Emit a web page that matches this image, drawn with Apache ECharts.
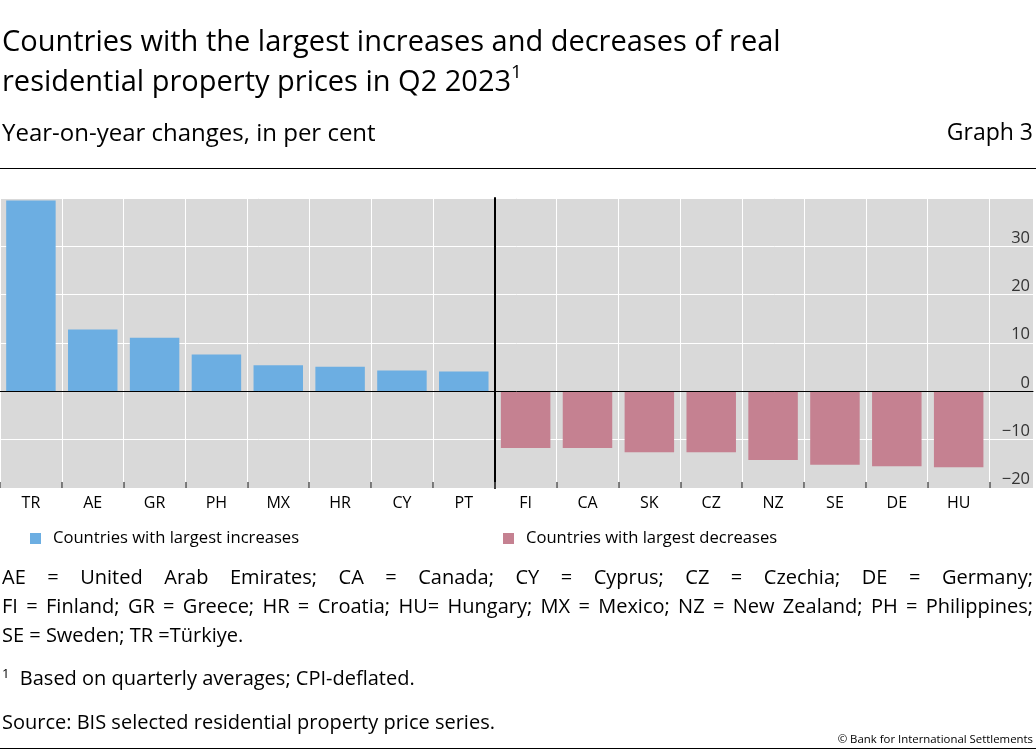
<!DOCTYPE html>
<html>
<head>
<meta charset="utf-8">
<script src="https://cdn.jsdelivr.net/npm/echarts@6/dist/echarts.min.js"></script>
<style>
  html, body { margin: 0; padding: 0; background: #fff; }
  #chart { position: absolute; left: 0; top: 0; width: 1036px; height: 754px; }
  .fn { position: absolute; left: 2px; width: 1031px; font-family: "Open Sans", sans-serif; font-size: 20px; color: #000; white-space: nowrap; line-height: 29px; }
  .just { text-align: justify; text-align-last: justify; }
  sup { font-size: 13px; vertical-align: 7px; line-height: 0; }
</style>
</head>
<body>
<div id="chart"></div>
<div class="fn just" style="top:562px;">AE = United Arab Emirates; CA = Canada; CY = Cyprus; CZ = Czechia; DE = Germany;</div>
<div class="fn just" style="top:591px;">FI = Finland; GR = Greece; HR = Croatia; HU= Hungary; MX = Mexico; NZ = New Zealand; PH = Philippines;</div>
<div class="fn" style="top:620px;">SE = Sweden; TR =Türkiye.</div>
<div class="fn" style="top:663px;"><sup>1</sup>&nbsp; Based on quarterly averages; CPI-deflated.</div>
<div class="fn" style="top:707px;">Source: BIS selected residential property price series.</div>
<script>
const categoriesInc = ['TR', 'AE', 'GR', 'PH', 'MX', 'HR', 'CY', 'PT'];
const valuesInc = [39.5, 12.8, 11.1, 7.6, 5.4, 5.1, 4.3, 4.1];
const categoriesDec = ['FI', 'CA', 'SK', 'CZ', 'NZ', 'SE', 'DE', 'HU'];
const valuesDec = [-11.7, -11.7, -12.6, -12.6, -14.2, -15.2, -15.5, -15.7];
const yMin = -20, yMax = 40, yStep = 10;
const nameInc = 'Countries with largest increases';
const nameDec = 'Countries with largest decreases';

const FONT = '"Open Sans", sans-serif';
const chart = echarts.init(document.getElementById('chart'), null, { renderer: 'canvas' });

const catAxis = (gi, data) => ({
  type: 'category', gridIndex: gi, data: data, position: 'bottom',
  axisLine: { show: false, onZero: false },
  axisTick: { show: true, inside: true, length: 6, lineStyle: { color: '#555', width: 1.5 } },
  axisLabel: { color: '#000', fontSize: 16, fontFamily: FONT, margin: 7 },
  splitLine: { show: true, lineStyle: { color: '#ffffff', width: 1 } }
});

chart.setOption({
  animation: false,
  textStyle: { fontFamily: FONT },
  title: {
    left: 2, top: 23, padding: 0,
    text: 'Countries with the largest increases and decreases of real\nresidential property prices in Q2 2023{sup|1}',
    textStyle: {
      fontSize: 29, fontWeight: 'normal', color: '#000', fontFamily: FONT, lineHeight: 40,
      rich: { sup: { fontSize: 19, verticalAlign: 'top', lineHeight: 30, color: '#000', fontFamily: FONT } }
    }
  },
  graphic: [
    { type: 'text', left: 2, top: 122, style: { text: 'Year-on-year changes, in per cent', font: '24px ' + FONT, fill: '#000' } },
    { type: 'text', right: 3, top: 122, style: { text: 'Graph 3', font: '23px ' + FONT, fill: '#000' } },
    { type: 'line', shape: { x1: 0, y1: 168.5, x2: 1036, y2: 168.5 }, style: { stroke: '#000', lineWidth: 1 } },
    { type: 'line', shape: { x1: 0, y1: 748.5, x2: 1036, y2: 748.5 }, style: { stroke: '#000', lineWidth: 1 } },
    { type: 'text', right: 3, top: 734, style: { text: '© Bank for International Settlements', font: '11.4px ' + FONT, fill: '#000' } }
  ],
  legend: [
    { data: [nameInc], left: 30, top: 530, padding: 0, icon: 'rect', itemWidth: 11, itemHeight: 11, itemGap: 10,
      textStyle: { fontSize: 16.6, color: '#000', fontFamily: FONT, padding: [0, 0, 0, 7] } },
    { data: [nameDec], left: 503, top: 530, padding: 0, icon: 'rect', itemWidth: 11, itemHeight: 11, itemGap: 10,
      textStyle: { fontSize: 16.6, color: '#000', fontFamily: FONT, padding: [0, 0, 0, 7] } }
  ],
  grid: [
    { left: 0, right: 3, top: 198, height: 290, show: true, backgroundColor: '#d9d9d9', borderWidth: 0 },
    { left: 0, width: 494.7, top: 198, height: 290 },
    { left: 494.7, width: 494.9, top: 198, height: 290 }
  ],
  xAxis: [
    { type: 'value', gridIndex: 0, min: 0, max: 1, z: 10,
      axisLine: { show: true, onZero: true, lineStyle: { color: '#000', width: 1 } },
      axisTick: { show: false }, axisLabel: { show: false }, splitLine: { show: false } },
    catAxis(1, categoriesInc),
    catAxis(2, categoriesDec)
  ],
  yAxis: [
    { type: 'value', gridIndex: 0, min: yMin, max: yMax, interval: yStep, position: 'right',
      axisLine: { show: false }, axisTick: { show: false },
      axisLabel: { inside: true, margin: 3, verticalAlign: 'bottom', color: '#333', fontSize: 16.5, fontFamily: FONT,
        formatter: v => (v === yMax ? '' : (v < 0 ? '\u2212' + Math.abs(v) : String(v))) },
      splitLine: { show: true, lineStyle: { color: '#ffffff', width: 1 } } },
    { type: 'value', gridIndex: 1, min: yMin, max: yMax, interval: yStep, show: false },
    { type: 'value', gridIndex: 2, min: yMin, max: yMax, interval: yStep, position: 'left',
      axisLine: { show: true, onZero: false, lineStyle: { color: '#000', width: 2 } },
      axisTick: { show: false }, axisLabel: { show: false }, splitLine: { show: false } }
  ],
  series: [
    { name: nameInc, type: 'bar', xAxisIndex: 1, yAxisIndex: 1, data: valuesInc, barCategoryGap: '20%',
      itemStyle: { color: '#6caee2' } },
    { name: nameDec, type: 'bar', xAxisIndex: 2, yAxisIndex: 2, data: valuesDec, barCategoryGap: '20%',
      itemStyle: { color: '#c58191' } }
  ]
});
</script>
</body>
</html>
